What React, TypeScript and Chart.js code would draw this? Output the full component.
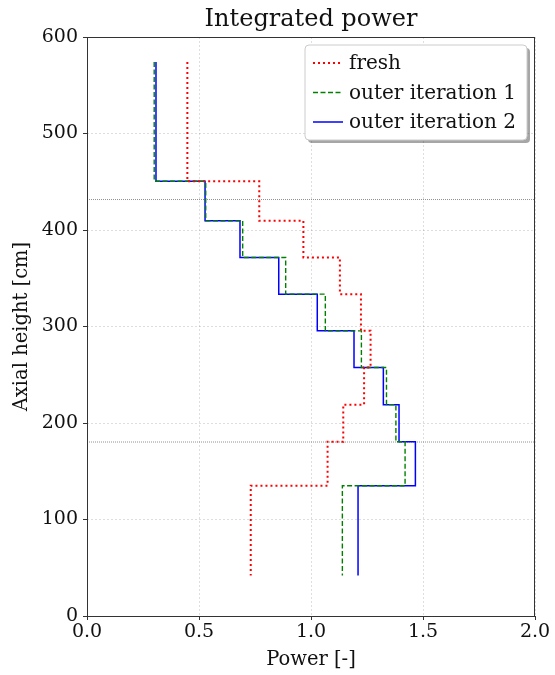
import React, { useEffect, useRef } from "react";
import { Chart, registerables } from "chart.js";

Chart.register(...registerables);

// Axial boundaries (cm), top to bottom
const heights = [574, 450.5, 409.5, 371.5, 333.5, 295.5, 257.5, 219, 180.5, 135, 42];
// Power per axial segment (top to bottom)
const fresh = [0.448, 0.769, 0.966, 1.129, 1.223, 1.266, 1.237, 1.144, 1.074, 0.731];
const outer1 = [0.3, 0.53, 0.695, 0.887, 1.064, 1.225, 1.337, 1.379, 1.42, 1.14];
const outer2 = [0.308, 0.527, 0.683, 0.856, 1.028, 1.192, 1.323, 1.393, 1.466, 1.21];
const refLines = [431.5, 180.3];
const xTicks = [0, 0.5, 1.0, 1.5, 2.0];
const seriesLabels = ["fresh", "outer iteration 1", "outer iteration 2"];

const FONT = "'DejaVu Serif', serif";

function stepPoints(vals: number[]) {
  const pts: { x: number; y: number }[] = [];
  vals.forEach((v, i) => {
    pts.push({ x: v, y: heights[i] });
    pts.push({ x: v, y: heights[i + 1] });
  });
  return pts;
}

const framePlugin = {
  id: "frameAndLegend",
  afterDraw(chart: any) {
    const { ctx, chartArea } = chart;
    const { left, right, top, bottom } = chartArea;
    ctx.save();
    // frame
    ctx.strokeStyle = "#333";
    ctx.lineWidth = 1;
    ctx.setLineDash([]);
    ctx.strokeRect(left + 0.5, top + 0.5, right - left - 1, bottom - top);
    // title
    ctx.fillStyle = "#111";
    ctx.font = `24px ${FONT}`;
    ctx.textAlign = "center";
    ctx.textBaseline = "middle";
    ctx.fillText("Integrated power", (left + right) / 2, 20);
    // legend
    const bw = 222, bh = 95;
    const bx = right - 8 - bw, by = top + 8;
    const r = 4;
    const rr = (x: number, y: number) => {
      ctx.beginPath();
      ctx.moveTo(x + r, y);
      ctx.lineTo(x + bw - r, y);
      ctx.quadraticCurveTo(x + bw, y, x + bw, y + r);
      ctx.lineTo(x + bw, y + bh - r);
      ctx.quadraticCurveTo(x + bw, y + bh, x + bw - r, y + bh);
      ctx.lineTo(x + r, y + bh);
      ctx.quadraticCurveTo(x, y + bh, x, y + bh - r);
      ctx.lineTo(x, y + r);
      ctx.quadraticCurveTo(x, y, x + r, y);
      ctx.closePath();
    };
    rr(bx + 3, by + 3);
    ctx.fillStyle = "rgba(0,0,0,0.35)";
    ctx.fill();
    rr(bx, by);
    ctx.fillStyle = "#fff";
    ctx.fill();
    ctx.strokeStyle = "#ccc";
    ctx.lineWidth = 1;
    ctx.stroke();
    ctx.font = `20px ${FONT}`;
    ctx.textAlign = "left";
    ctx.textBaseline = "middle";
    seriesLabels.forEach((lab, i) => {
      const ds = chart.data.datasets[i];
      const y = by + 18 + i * 29.5;
      ctx.beginPath();
      ctx.strokeStyle = ds.borderColor;
      ctx.lineWidth = ds.borderWidth;
      ctx.setLineDash(ds.borderDash || []);
      ctx.moveTo(bx + 8, y);
      ctx.lineTo(bx + 38, y);
      ctx.stroke();
      ctx.setLineDash([]);
      ctx.fillStyle = "#111";
      ctx.fillText(lab, bx + 44, y + 1);
    });
    ctx.restore();
  },
};

export default function App() {
  const ref = useRef<HTMLCanvasElement>(null);
  useEffect(() => {
    document.body.style.margin = "0";
    const canvas = ref.current!;
    const datasets: any[] = [
      {
        label: seriesLabels[0],
        data: stepPoints(fresh),
        borderColor: "#ff0000",
        borderWidth: 2,
        borderDash: [2, 3],
      },
      {
        label: seriesLabels[1],
        data: stepPoints(outer1),
        borderColor: "#008000",
        borderWidth: 1.4,
        borderDash: [5, 2.5],
      },
      {
        label: seriesLabels[2],
        data: stepPoints(outer2),
        borderColor: "#0000ff",
        borderWidth: 1.5,
      },
      ...refLines.map((h) => ({
        label: "ref",
        data: [
          { x: xTicks[0], y: h },
          { x: xTicks[xTicks.length - 1], y: h },
        ],
        borderColor: "#777",
        borderWidth: 0.8,
        borderDash: [1, 1],
      })),
    ].map((d) => ({ ...d, showLine: true, pointRadius: 0, fill: false, tension: 0 }));

    const chart = new Chart(canvas, {
      type: "scatter",
      data: { datasets },
      plugins: [framePlugin],
      options: {
        animation: false,
        responsive: false,
        layout: { padding: { left: 0, right: 20, top: 37, bottom: 0 } },
        plugins: { legend: { display: false }, tooltip: { enabled: false }, title: { display: false } },
        scales: {
          x: {
            type: "linear",
            min: 0,
            max: 2,
            afterBuildTicks: (s: any) => {
              s.ticks = xTicks.map((v) => ({ value: v }));
            },
            afterFit: (s: any) => {
              s.height = 59;
            },
            ticks: {
              callback: (v: any) => Number(v).toFixed(1),
              font: { family: FONT, size: 19 },
              color: "#111",
              padding: 1,
              maxRotation: 0,
            },
            grid: {
              color: "rgba(0,0,0,0.13)",
              lineWidth: 1,
              tickLength: 4,
              tickColor: "#333",
              tickBorderDash: [],
            },
            border: { display: false, dash: [2, 2] },
            title: {
              display: true,
              text: "Power [-]",
              font: { family: FONT, size: 19.5 },
              color: "#111",
              padding: { top: 0, bottom: 3 },
            },
          },
          y: {
            type: "linear",
            min: 0,
            max: 600,
            ticks: {
              stepSize: 100,
              font: { family: FONT, size: 19 },
              color: "#111",
              padding: 5,
            },
            afterFit: (s: any) => {
              s.width = 87;
            },
            grid: {
              color: "rgba(0,0,0,0.13)",
              lineWidth: 1,
              tickLength: 4,
              tickColor: "#333",
              tickBorderDash: [],
            },
            border: { display: false, dash: [2, 2] },
            title: {
              display: true,
              text: "Axial height [cm]",
              font: { family: FONT, size: 19.5 },
              color: "#111",
              padding: { top: 10, bottom: 0 },
            },
          },
        },
      },
    });
    return () => chart.destroy();
  }, []);
  return (
    <canvas
      ref={ref}
      width={555}
      height={675}
      style={{ position: "fixed", left: 0, top: 0, width: 555, height: 675 }}
    />
  );
}
